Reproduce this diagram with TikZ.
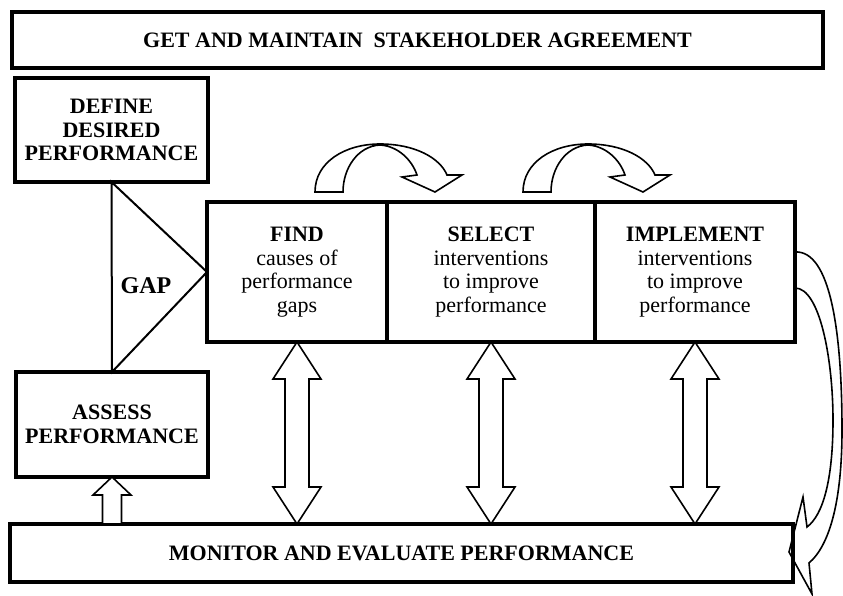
\documentclass[tikz,border=0pt]{standalone}
\usepackage{fontspec}
\setmainfont{Liberation Serif}
\usetikzlibrary{calc}
\begin{document}
\begin{tikzpicture}[x=1pt,y=-1pt,
  box/.style={draw, line width=3.1pt, inner sep=0pt, outer sep=0pt, align=center,
    font=\fontsize{22}{23.5}\selectfont\bfseries},
  cell/.style={draw, line width=3.1pt, inner sep=0pt, outer sep=0pt, align=center,
    font=\fontsize{22}{23.5}\selectfont},
  blk/.style={draw, line width=1.6pt, fill=white, line join=miter}]
\useasboundingbox (0,0) rectangle (843,596);

% curved arrows on top
\foreach \dx in {0,208}{
  \begin{scope}[xshift=\dx pt]
    \draw[blk] (315,192) .. controls (315,162) and (345,144) .. (380,144)
      .. controls (415,144) and (440,158) .. (447,175)
      -- (462,175) -- (435,192) -- (402,177) -- (417,175)
      .. controls (412,160) and (398,146) .. (380,145)
      .. controls (358,146) and (343,168) .. (343,192) -- cycle;
  \end{scope}
}

% right curved arrow
\draw[blk] (795,252) .. controls (830,250) and (842,330) .. (842,430)
  .. controls (842,500) and (830,545) .. (809,563)
  -- (812,594) -- (789,552) -- (803,497) -- (807,527)
  .. controls (823,515) and (833,480) .. (833,420)
  .. controls (833,360) and (820,288) .. (795,288) -- cycle;

% boxes
\node[box, minimum width=811pt, minimum height=56pt] (top) at (417.5,40)
  {GET AND MAINTAIN\ \ STAKEHOLDER AGREEMENT};
\node[box, minimum width=193pt, minimum height=104pt] (def) at (111.5,130)
  {DEFINE\\DESIRED\\PERFORMANCE};
\node[box, minimum width=192pt, minimum height=105pt] (ass) at (112,424.5)
  {ASSESS\\PERFORMANCE};
\node[cell, minimum width=180pt, minimum height=140pt] (find) at (297,272)
  {{\bfseries FIND}\\causes of\\performance\\gaps};
\node[cell, minimum width=208pt, minimum height=140pt] (sel) at (491,272)
  {{\bfseries SELECT}\\interventions\\to improve\\performance};
\node[cell, minimum width=200pt, minimum height=140pt] (impl) at (695,272)
  {{\bfseries IMPLEMENT}\\interventions\\to improve\\performance};
\node[box, minimum width=783pt, minimum height=58pt] (mon) at (401.5,553)
  {MONITOR AND EVALUATE PERFORMANCE};

% GAP triangle
\draw[line width=2pt, line join=miter] (def.south) -- (ass.north) -- (find.west) -- cycle;
\node[font=\fontsize{24}{26}\selectfont\bfseries] (gap) at (146,286) {GAP};

% double block arrows
\foreach \nm in {find,sel,impl}{
  \draw[blk] let \p1=(\nm.south), \p2=(\nm.south |- mon.north) in
    (\p1) -- (\x1+24pt,\y1-37pt) -- (\x1+12pt,\y1-37pt) -- (\x1+12pt,\y2+37pt)
    -- (\x1+24pt,\y2+37pt) -- (\p2) -- (\x1-24pt,\y2+37pt) -- (\x1-12pt,\y2+37pt)
    -- (\x1-12pt,\y1-37pt) -- (\x1-24pt,\y1-37pt) -- cycle;
}

% small up arrow
\draw[blk] let \p1=(ass.south), \p2=(ass.south |- mon.north) in
  (\p1) -- (\x1+19pt,\y1-18pt) -- (\x1+9.5pt,\y1-18pt) -- (\x1+9.5pt,\y2)
  -- (\x1-9.5pt,\y2) -- (\x1-9.5pt,\y1-18pt) -- (\x1-19pt,\y1-18pt) -- cycle;
\end{tikzpicture}
\end{document}
